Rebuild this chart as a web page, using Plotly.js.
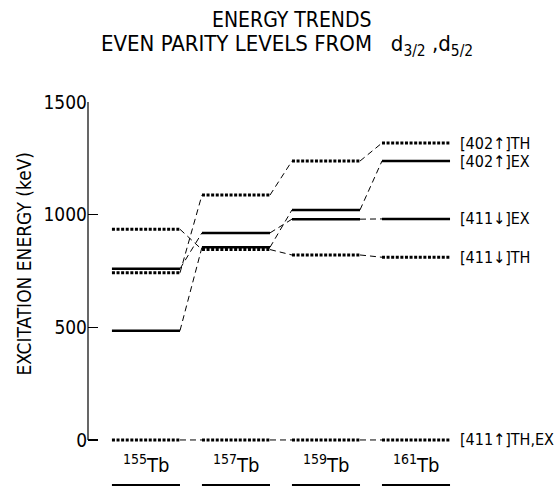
<!DOCTYPE html>
<html>
<head>
<meta charset="utf-8">
<script src="https://cdn.plot.ly/plotly-3.0.1.min.js"></script>
<style>html,body{margin:0;padding:0;background:#fff;}#chart{width:555px;height:487px;}</style>
</head>
<body>
<div id="chart"></div>
<script>
// ---- data (keV) ----
const nuclei = ['155', '157', '159', '161'];
const th402 = [742, 1087, 1238, 1318];   // [402↑] TH (dotted)
const ex402 = [485, 855, 1021, 1238];    // [402↑] EX (solid)
const ex411d = [760, 919, 980, 981];     // [411↓] EX (solid)
const th411d = [935, 845, 821, 811];     // [411↓] TH (dotted)
const ground = [0, 0, 0, 0];             // [411↑] TH,EX (dotted)
const seriesLabels = ['[402↑]TH', '[402↑]EX', '[411↓]EX', '[411↓]TH', '[411↑]TH,EX'];
const yTicks = [0, 500, 1000, 1500];
const titleLines = ['ENERGY TRENDS', 'EVEN PARITY LEVELS FROM   d<sub>3/2</sub> ,d<sub>5/2</sub>'];

const FONT = 'DejaVu Sans Condensed, Liberation Sans Narrow, Arial Narrow, sans-serif';
const H = 0.378; // half width of a level bar (x units)

const series = [
  {v: th402, dotted: true},
  {v: ex402, dotted: false},
  {v: ex411d, dotted: false},
  {v: th411d, dotted: true},
  {v: ground, dotted: true}
];

const traces = [];
series.forEach(s => {
  const lx = [], ly = [], cx = [], cy = [];
  s.v.forEach((val, i) => {
    lx.push(i - H, i + H, null); ly.push(val, val, null);
    if (i < s.v.length - 1) {
      cx.push(i + H, i + 1 - H, null); cy.push(val, s.v[i + 1], null);
    }
  });
  traces.push({x: cx, y: cy, mode: 'lines', hoverinfo: 'skip', showlegend: false,
    line: {color: '#000', width: 1, dash: '6px,4px'}});
  traces.push({x: lx, y: ly, mode: 'lines', hoverinfo: 'skip', showlegend: false,
    line: s.dotted ? {color: '#000', width: 3, dash: '3px,1.6px'} : {color: '#000', width: 2.5}});
});

const annotations = [];
series.forEach((s, k) => {
  annotations.push({x: 3 + H + 0.09, y: s.v[3], xref: 'x', yref: 'y', xanchor: 'left', yanchor: 'middle',
    text: seriesLabels[k], showarrow: false, font: {family: FONT, size: 16, color: '#000'}});
});
nuclei.forEach((n, i) => {
  annotations.push({x: i, y: -107, xref: 'x', yref: 'y', xanchor: 'center', yanchor: 'middle',
    text: '<sup>' + n + '</sup>Tb', showarrow: false, font: {family: FONT, size: 20, color: '#000'}});
});
annotations.push({x: -0.17, xref: 'paper', y: 783, yref: 'y', textangle: -90, xanchor: 'center', yanchor: 'middle',
  text: 'EXCITATION ENERGY (keV)', showarrow: false, font: {family: FONT, size: 19, color: '#000'}});
// title lines
annotations.push({x: 0.535, xref: 'paper', y: 1.213, yref: 'paper', xanchor: 'center', yanchor: 'middle',
  text: titleLines[0], showarrow: false, font: {family: FONT, size: 21, color: '#000'}});
annotations.push({x: 0.52, xref: 'paper', y: 1.148, yref: 'paper', xanchor: 'center', yanchor: 'middle',
  text: titleLines[1], showarrow: false, font: {family: FONT, size: 22, color: '#000'}});

const shapes = [
  {type: 'line', xref: 'paper', yref: 'y', x0: 0, x1: 0, y0: 0, y1: 1500, line: {color: '#000', width: 1.2}}
];
nuclei.forEach((n, i) => {
  shapes.push({type: 'line', xref: 'x', yref: 'y', x0: i - H, x1: i + H, y0: -200, y1: -200,
    line: {color: '#000', width: 2}});
});

const layout = {
  width: 555, height: 487,
  margin: {l: 88, r: 85, t: 102, b: 0},
  paper_bgcolor: '#fff', plot_bgcolor: '#fff',
  font: {family: FONT, color: '#000'},
  xaxis: {range: [-0.644, 3.6], visible: false, fixedrange: true},
  yaxis: {range: [-208.8, 1500], showgrid: false, zeroline: false, showline: false,
    ticks: 'inside', ticklen: 10, tickwidth: 1.2, tickcolor: '#000',
    tickvals: yTicks, ticktext: yTicks.map(String), tickfont: {family: FONT, size: 19, color: '#000'},
    fixedrange: true},
  annotations: annotations,
  shapes: shapes,
  showlegend: false
};

Plotly.newPlot('chart', traces, layout, {staticPlot: true, displayModeBar: false});
</script>
</body>
</html>
